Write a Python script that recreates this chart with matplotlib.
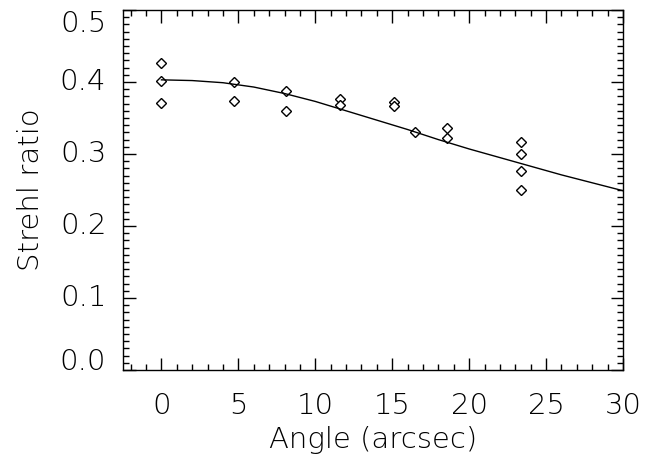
import matplotlib
matplotlib.use("Agg")
import matplotlib.pyplot as plt
from matplotlib.ticker import MultipleLocator, FormatStrFormatter

# Measured points
angle = [0, 0, 0, 4.7, 4.7, 8.1, 8.1, 11.6, 11.6, 15.1, 15.1,
         16.45, 18.55, 18.55, 23.4, 23.4, 23.4, 23.4]
strehl = [0.427, 0.401, 0.371, 0.400, 0.374, 0.387, 0.360, 0.377, 0.368,
          0.372, 0.366, 0.331, 0.336, 0.322, 0.316, 0.300, 0.276, 0.250]

# Fitted curve
curve_x = [0, 2, 4, 6, 8, 10, 12, 14, 16, 18, 20, 22, 24, 26, 28, 30]
curve_y = [0.403, 0.402, 0.399, 0.393, 0.384, 0.373, 0.360, 0.347, 0.334,
           0.320, 0.307, 0.295, 0.283, 0.271, 0.260, 0.249]

x_ticks = [0, 5, 10, 15, 20, 25, 30]
y_ticks = [0.0, 0.1, 0.2, 0.3, 0.4, 0.5]

plt.rcParams['font.family'] = ['DejaVu Sans']
plt.rcParams['font.weight'] = 'light'
plt.rcParams['axes.labelweight'] = 'light'
fig = plt.figure(figsize=(6.53, 4.63), dpi=100)
ax = fig.add_axes([123/653, 1-370/463, 500/653, 360/463])

ax.plot(angle, strehl, linestyle='none', marker='D', markersize=5,
        markerfacecolor='white', markeredgecolor='black', markeredgewidth=1.0)
ax.plot(curve_x, curve_y, color='black', linewidth=1.0)

ax.set_xlim(-2.5, 30)
ax.set_ylim(0, 0.5)
ax.set_xticks(x_ticks)
ax.set_yticks(y_ticks)
ax.xaxis.set_minor_locator(MultipleLocator(1))
ax.yaxis.set_minor_locator(MultipleLocator(0.01))
ax.yaxis.set_major_formatter(FormatStrFormatter('%.1f'))

ax.tick_params(which='both', direction='in', top=True, right=True, width=1.0)
ax.tick_params(which='major', length=9, labelsize=21)
ax.tick_params(which='minor', length=4.5)
ax.tick_params(axis='y', which='major', pad=12)
ax.tick_params(axis='x', which='major', pad=16)
for s in ax.spines.values():
    s.set_linewidth(1.0)

# end labels shifted inward as in the reference
ylabels = ax.get_yticklabels()
ylabels[0].set_va('baseline')
ylabels[-1].set_va('top')
for lab in ylabels[1:-1]:
    lab.set_va('center')

ax.set_xlabel('Angle (arcsec)', fontsize=21, fontweight='light', labelpad=4)
ax.set_ylabel('Strehl ratio', fontsize=21, fontweight='light', labelpad=11)

fig.savefig('out.png', dpi=100)
